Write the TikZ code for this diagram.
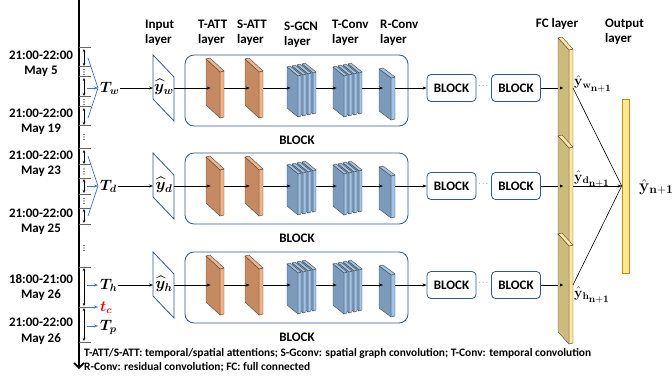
\documentclass[tikz,border=0pt]{standalone}
\usepackage{fix-cm}
\usepackage[no-math]{fontspec}
\setmainfont{Carlito}
\usepackage{amsmath,bm}
\usetikzlibrary{arrows.meta}
\definecolor{attfront}{RGB}{197,138,98}
\definecolor{attside}{RGB}{244,177,131}
\definecolor{convfront}{RGB}{124,154,188}
\definecolor{convside}{RGB}{160,196,232}
\definecolor{fcfront}{RGB}{205,186,125}
\definecolor{fcside}{RGB}{255,230,153}
\definecolor{frame}{RGB}{47,85,151}
\definecolor{timeblue}{RGB}{68,114,196}
\definecolor{gold}{RGB}{191,144,0}

% slab of a layer: name, x, row, top offset, width, height, skew, depth, kind
\newcommand{\layerslab}[9]{%
  \filldraw[#9 side] ({#2+#5},{#3-(#4)+#7}) -- ++(#8,-1) -- ++(0,#6) -- ++(-#8,1) -- cycle;
  \filldraw[#9 side] ({#2},{#3-(#4)}) -- ++(#8,-1) -- ++(#5,#7) -- ++(-#8,1) -- cycle;
  \filldraw[#9 front] ({#2},{#3-(#4)}) -- ++(#5,#7) -- ++(0,#6) -- ++(-#5,-#7) -- cycle;
  \coordinate (#1-in) at ({#2+#5/3},#3);
  \coordinate (#1-out) at ({#2+#5+#8},#3);
}
% bold hat-y with a two-level index
\newcommand{\yfc}[1]{\hat{\mathbf{y}}_{\mathbf{#1}_{\scriptstyle\mathbf{n+1}}}}

\begin{document}
\begin{tikzpicture}[x=1pt,y=-1pt,>={Stealth[length=4pt,width=3pt]},
  lbl/.style={font=\bfseries\fontsize{13}{15.5}\selectfont,inner sep=0pt,align=center},
  head/.style={lbl,align=left,anchor=west},
  tlabel/.style={anchor=west,inner sep=1pt,font=\fontsize{15}{15}\selectfont},
  flow/.style={->,line width=0.6pt},
  timeflow/.style={timeblue,line width=0.7pt},
  tick/.style={black!60,line width=1pt},
  att front/.style={fill=attfront,draw=black!70,line width=0.4pt},
  att side/.style={fill=attside,draw=black!70,line width=0.4pt},
  conv front/.style={fill=convfront,draw=black!70,line width=0.4pt},
  conv side/.style={fill=convside,draw=black!70,line width=0.4pt},
  fc front/.style={fill=fcfront,draw=black!70,line width=0.4pt},
  fc side/.style={fill=fcside,draw=black!70,line width=0.4pt},
  blk/.style={draw=frame,rounded corners=9pt,line width=0.8pt,minimum width=223pt,minimum height=71pt},
  smallblk/.style={lbl,draw=frame,rounded corners=4pt,line width=0.8pt,minimum width=49pt,minimum height=27pt},
  inlayer/.style={draw=frame,line width=0.8pt,fill=white},
  legend/.style={anchor=west,inner sep=0pt,font=\bfseries\fontsize{11.4}{13}\selectfont}]
\useasboundingbox (0,0) rectangle (672,377);

% time axis
\draw[line width=1.6pt,-{Straight Barb[length=5pt,width=10pt]}] (79,0) -- (79,369);
\foreach \t in {48,67,77,97,107,126,149,165,178,194,208,224,267,307,342}
  \draw[tick] (79,\t) -- ++(12,0);
\foreach \a/\b in {48/67,77/97,107/126,149/165,178/194,208/224,267/307,307/342}
  \draw[<->,line width=0.5pt,>={Stealth[length=3pt,width=2.5pt]}] (84,\a+1) -- (84,\b-1);
\foreach \t in {72,102,137,171.5,201,248}
  \foreach \s in {-2.5,0,2.5} \fill (84,\t+\s) circle (0.6);

% dates
\node[lbl] (d1) at (41,64) {21:00-22:00\\May 5};
\node[lbl] (d2) at (41,122) {21:00-22:00\\May 19};
\node[lbl] (d3) at (41,164) {21:00-22:00\\May 23};
\node[lbl] (d4) at (41,222) {21:00-22:00\\May 25};
\node[lbl] (d5) at (41,287.5) {18:00-21:00\\May 26};
\node[lbl] (d6) at (41,331.5) {21:00-22:00\\May 26};

% week and day samples
\foreach \r/\y in {w/88,d/186} {
  \coordinate (v-\r) at (98,\y);
  \draw[timeflow] (88,\y-30) -- (v-\r) -- (88,\y+30);
  \draw[timeflow,->] (87,\y) -- (v-\r);
}
\node[tlabel] (T-w) at (99,88) {$\bm{T}_{\bm{w}}$};
\node[tlabel] (T-d) at (99,186) {$\bm{T}_{\bm{d}}$};
% hour, current and predicted
\coordinate (v-h) at (98,285);
\coordinate (v-c) at (98,307);
\coordinate (v-p) at (98,326);
\foreach \r in {h,c,p} \draw[timeflow,->] (v-\r) ++(-11,0) -- (v-\r);
\node[tlabel] (T-h) at (99,285) {$\bm{T}_{\bm{h}}$};
\node[tlabel,text=red] (t-c) at (99,308) {$\bm{t}_{\bm{c}}$};
\node[tlabel] (T-p) at (99,327) {$\bm{T}_{\bm{p}}$};

% headers
\node[head] (h-in) at (145,33) {Input\\layer};
\node[head] (h-tatt) at (198,33) {T-ATT\\layer};
\node[head] (h-satt) at (237,33) {S-ATT\\layer};
\node[head] (h-gcn) at (284,35) {S-GCN\\layer};
\node[head] (h-tconv) at (332,33) {T-Conv\\layer};
\node[head] (h-rconv) at (380,33) {R-Conv\\layer};
\node[lbl] (h-fc) at (557,24) {FC layer};
\node[head] (h-out) at (605,32) {Output\\layer};

% three branches
\foreach \r/\y in {w/88,d/186,h/285} {
  \draw[inlayer] (153,\y-33) -- (174,\y-11) -- (174,\y+33) -- (153,\y+11) -- cycle;
  \coordinate (inl-\r) at (153,\y);
  \coordinate (inr-\r) at (174,\y);
  \node[font=\fontsize{16}{16}\selectfont,inner sep=0pt] (yhat-\r) at (164,\y-1) {$\widehat{\bm{y}}_{\bm{\r}}$};
  \node[blk] (block-\r) at (296.5,\y+2.5) {};
  \node[lbl] (blabel-\r) at (297,\y+52) {BLOCK};
  \layerslab{tatt-\r}{206}{\y}{29}{14}{46}{13}{4}{att}
  \layerslab{satt-\r}{245}{\y}{29}{14}{46}{13}{4}{att}
  \foreach \k in {3,2,1,0} {
    \layerslab{gcn\k-\r}{287+5*\k}{\y}{21+\k}{11}{41}{9}{3}{conv}
    \layerslab{tconv\k-\r}{333+5*\k}{\y}{21+\k}{11}{41}{9}{3}{conv}
  }
  \layerslab{rconv-\r}{379}{\y}{19}{12}{42}{9}{4}{conv}
  \node[smallblk] (b1-\r) at (451.5,\y) {BLOCK};
  \node[font=\scriptsize,inner sep=0pt] (dots-\r) at (484,\y-2) {$\cdots$};
  \node[smallblk] (b2-\r) at (516,\y) {BLOCK};
  \coordinate (fcin-\r) at (563,\y);
  \coordinate (fcout-\r) at (573,\y);
  \draw[flow] (T-\r) -- (inl-\r);
  \draw[flow] (inr-\r) -- (tatt-\r-in);
  \draw[flow] (tatt-\r-out) -- (satt-\r-in);
  \draw[flow] (satt-\r-out) -- (gcn0-\r-in);
  \draw[flow] (gcn3-\r-out) -- (tconv0-\r-in);
  \draw[flow] (tconv3-\r-out) -- (rconv-\r-in);
  \draw[flow] (rconv-\r-out) -- (b1-\r);
  \draw[flow] (b2-\r) -- (fcin-\r);
}

% fully connected layer
\layerslab{fc1}{558}{38}{0}{11}{98}{12}{4}{fc}
\layerslab{fc2}{558}{136}{0}{11}{98}{12}{4}{fc}
\layerslab{fc3}{558}{234}{0}{11}{98}{12}{4}{fc}
\foreach \r in {w,d,h} \fill (fcin-\r) ++(-3,-1.5) -- (fcin-\r) -- ++(-3,1.5) -- cycle;

% output layer
\node[draw=gold,fill=fcside,line width=0.6pt,minimum width=7pt,minimum height=174pt,inner sep=0pt] (out) at (625.5,186) {};
\draw[line width=0.6pt] (fcout-w) -- (out.west);
\draw[line width=0.6pt] (fcout-h) -- (out.west);
\draw[flow] (fcout-d) -- (out.west);

\node[anchor=base west,inner sep=0pt,font=\fontsize{14}{14}\selectfont] (yw) at (574,86) {$\yfc{w}$};
\node[anchor=base west,inner sep=0pt,font=\fontsize{14}{14}\selectfont] (yd) at (574,181) {$\yfc{d}$};
\node[anchor=base west,inner sep=0pt,font=\fontsize{14}{14}\selectfont] (yh) at (574,297) {$\yfc{h}$};
\node[anchor=west,inner sep=0pt,font=\fontsize{17}{17}\selectfont] (yout) at (639,187) {$\hat{\mathbf{y}}_{\mathbf{n+1}}$};

% legend
\node[legend] (leg1) at (84,353) {T-ATT/S-ATT: temporal/spatial attentions; S-Gconv: spatial graph convolution; T-Conv: temporal convolution};
\node[legend] (leg2) at (84,367) {R-Conv: residual convolution; FC: full connected};
\end{tikzpicture}
\end{document}
